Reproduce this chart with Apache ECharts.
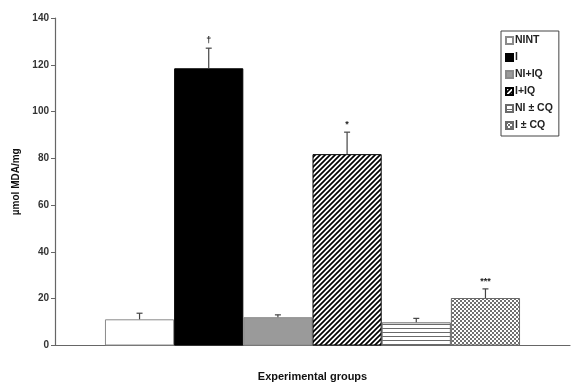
<!DOCTYPE html>
<html>
<head>
<meta charset="utf-8">
<script src="https://cdn.jsdelivr.net/npm/echarts@6/dist/echarts.min.js"></script>
<style>
  html, body { margin: 0; padding: 0; background: #fff; }
  #chart { width: 573px; height: 383px; }
</style>
</head>
<body>
<div id="chart"></div>
<script>
// Groups, mean MDA values, upward error (SD) and significance marks
const groups = ['NINT', 'I', 'NI+IQ', 'I+IQ', 'NI ± CQ', 'I ± CQ'];
const means = [11.2, 118.5, 12.1, 81.8, 9.9, 20.3];
const errors = [2.6, 8.6, 1.0, 9.4, 1.7, 3.9];
const marks = ['', '†', '', '*', '', '***'];
const yTicks = { min: 0, max: 140, interval: 20 };

const CATEGORY_GAP = 0.194;

// Small tiled canvases used as hatch fills
function tile(w, h, draw) {
  const c = document.createElement('canvas');
  c.width = w; c.height = h;
  const ctx = c.getContext('2d');
  ctx.fillStyle = '#fff';
  ctx.fillRect(0, 0, w, h);
  draw(ctx);
  return { image: c, repeat: 'repeat' };
}
const diagonal = tile(5, 5, ctx => {
  ctx.strokeStyle = '#000';
  ctx.lineWidth = 1.7;
  ctx.beginPath();
  ctx.moveTo(-1, 6); ctx.lineTo(6, -1);
  ctx.moveTo(-1, 1); ctx.lineTo(1, -1);
  ctx.moveTo(4, 6); ctx.lineTo(6, 4);
  ctx.stroke();
});
const horizontal = tile(4, 4, ctx => {
  ctx.fillStyle = '#6a6a6a';
  ctx.fillRect(0, 0, 4, 1);
});
const checker = tile(4, 4, ctx => {
  ctx.fillStyle = '#707070';
  ctx.fillRect(0, 0, 2, 2);
  ctx.fillRect(2, 2, 2, 2);
});

const fills = [
  { color: '#ffffff', borderColor: '#8a8a8a' },
  { color: '#000000', borderColor: '#000000' },
  { color: '#9a9a9a', borderColor: '#8a8a8a' },
  { color: diagonal, borderColor: '#000000' },
  { color: horizontal, borderColor: '#6a6a6a' },
  { color: checker, borderColor: '#6a6a6a' }
];

const barSeries = groups.map((name, i) => ({
  name: name,
  type: 'bar',
  data: [means[i]],
  barGap: '0%',
  barCategoryGap: (CATEGORY_GAP * 100) + '%',
  itemStyle: { color: fills[i].color, borderColor: fills[i].borderColor, borderWidth: 1 },
  emphasis: { disabled: true }
}));

// Error bars and significance marks placed on each bar of the cluster
const errorSeries = {
  type: 'custom',
  data: means.map((m, i) => [0, m, errors[i], i]),
  z: 5,
  silent: true,
  renderItem: function (params, api) {
    const i = api.value(3);
    const m = api.value(1);
    const e = api.value(2);
    const base = api.coord([0, m]);
    const top = api.coord([0, m + e]);
    const band = api.size([1, 0])[0];
    const cluster = band * (1 - CATEGORY_GAP);
    const bw = cluster / groups.length;
    const x = base[0] - cluster / 2 + (i + 0.5) * bw;
    const children = [
      { type: 'line', shape: { x1: x, y1: base[1], x2: x, y2: top[1] },
        style: { stroke: '#444', lineWidth: 1.2 } },
      { type: 'line', shape: { x1: x - 3, y1: top[1], x2: x + 3, y2: top[1] },
        style: { stroke: '#444', lineWidth: 1.2 } }
    ];
    if (marks[i]) {
      children.push({ type: 'text', style: {
        x: x, y: top[1] - 3, text: marks[i], align: 'center', verticalAlign: 'bottom',
        fill: '#222', font: 'bold 9px "Liberation Sans", Arial, sans-serif' } });
    }
    return { type: 'group', children: children };
  }
};

const chart = echarts.init(document.getElementById('chart'), null, { renderer: 'canvas' });
chart.setOption({
  animation: false,
  backgroundColor: '#fff',
  textStyle: { fontFamily: '"Liberation Sans", Arial, sans-serif' },
  grid: { left: 55, right: 3, top: 18, bottom: 37.5, outerBoundsMode: 'none', containLabel: false },
  legend: {
    data: groups,
    orient: 'vertical',
    left: 501, top: 31,
    itemWidth: 7, itemHeight: 7, itemGap: 6,
    padding: [4, 6, 5, 4],
    borderColor: '#444', borderWidth: 1,
    selectedMode: false,
    textStyle: { fontSize: 10.5, fontWeight: 'bold', color: '#222', padding: [0, 0, 0, -3] },
    icon: 'rect'
  },
  xAxis: {
    type: 'category',
    data: [''],
    name: 'Experimental groups',
    nameLocation: 'middle',
    nameGap: 26,
    nameTextStyle: { fontSize: 11, fontWeight: 'bold', color: '#111' },
    axisLine: { lineStyle: { color: '#666', width: 1.2 } },
    axisTick: { show: false },
    axisLabel: { show: false }
  },
  yAxis: {
    type: 'value',
    min: yTicks.min, max: yTicks.max, interval: yTicks.interval,
    name: 'µmol MDA/mg',
    nameLocation: 'middle',
    nameGap: 33,
    nameTextStyle: { fontSize: 10, fontWeight: 'bold', color: '#111' },
    axisLine: { show: true, lineStyle: { color: '#666', width: 1.2 } },
    axisTick: { show: true, length: 4, lineStyle: { color: '#666' } },
    axisLabel: { fontSize: 10, fontWeight: 'bold', color: '#333', margin: 6 },
    splitLine: { show: false }
  },
  series: barSeries.concat([errorSeries])
});
</script>
</body>
</html>
